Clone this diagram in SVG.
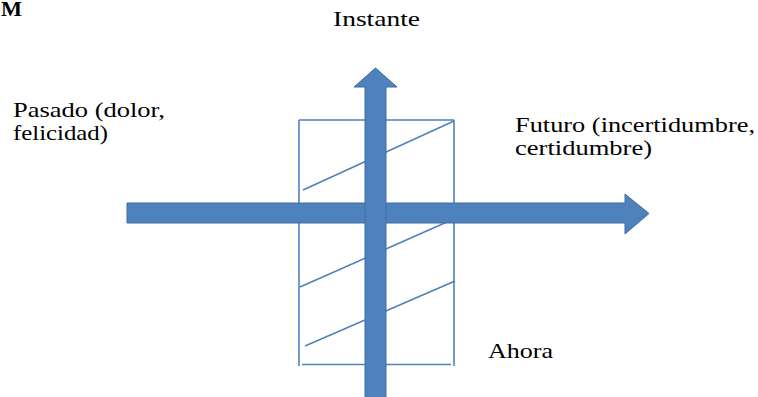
<svg xmlns="http://www.w3.org/2000/svg" width="758" height="397" viewBox="0 0 758 397">
<style>
  .t { font-family: "Liberation Serif", "DejaVu Serif", "Times New Roman", serif; font-size: 22px; fill: #000; }
  .frame { stroke: #4F81BD; stroke-width: 1.6; fill: none; }
  .arrow { fill: #4F81BD; stroke: #3E6CA3; stroke-width: 1; }
</style>
<rect width="758" height="397" fill="#fff"/>
<text class="t" x="1" y="16" font-weight="bold" font-family="Liberation Serif, DejaVu Serif, serif" font-size="20" textLength="21" lengthAdjust="spacingAndGlyphs">M</text>
<g id="frame">
  <line class="frame" x1="299" y1="120" x2="454" y2="120"/>
  <line class="frame" x1="299" y1="120" x2="299" y2="366"/>
  <line class="frame" x1="454" y1="120" x2="454" y2="366"/>
  <line class="frame" x1="302" y1="364.5" x2="451" y2="364.5"/>
  <line class="frame" x1="454" y1="121" x2="303" y2="190"/>
  <line class="frame" x1="456" y1="218" x2="300" y2="287"/>
  <line class="frame" x1="455" y1="281" x2="305" y2="346"/>
</g>
<g id="connectors">
  <polygon id="timeline" class="arrow" points="127,203 625,203 625,194 649,213.5 625,234 625,223 127,223"/>
  <polygon id="instant-axis" class="arrow" points="365,400 365,87 354,87 375.5,68 397,87 386,87 386,400"/>
</g>
<g id="instante">
  <text class="t" x="333" y="26" font-family="Liberation Serif, DejaVu Serif, serif" textLength="87" lengthAdjust="spacingAndGlyphs">Instante</text>
</g>
<g id="pasado">
  <text class="t" x="13" y="117" font-family="Liberation Serif, DejaVu Serif, serif" textLength="152" lengthAdjust="spacingAndGlyphs">Pasado (dolor,</text>
  <text class="t" x="13" y="140" font-family="Liberation Serif, DejaVu Serif, serif" textLength="95" lengthAdjust="spacingAndGlyphs">felicidad)</text>
</g>
<g id="futuro">
  <text class="t" x="515" y="132" font-family="Liberation Serif, DejaVu Serif, serif" textLength="240" lengthAdjust="spacingAndGlyphs">Futuro (incertidumbre,</text>
  <text class="t" x="515" y="155" font-family="Liberation Serif, DejaVu Serif, serif" textLength="137" lengthAdjust="spacingAndGlyphs">certidumbre)</text>
</g>
<g id="ahora">
  <text class="t" x="488" y="358" font-family="Liberation Serif, DejaVu Serif, serif" textLength="65" lengthAdjust="spacingAndGlyphs">Ahora</text>
</g>
</svg>
